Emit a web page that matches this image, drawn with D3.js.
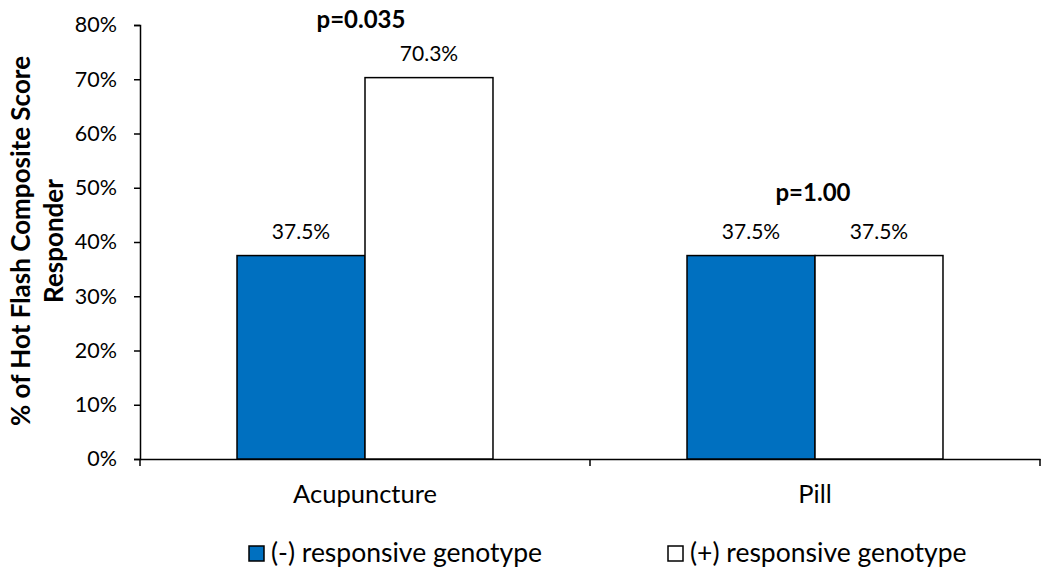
<!DOCTYPE html>
<html><head><meta charset="utf-8">
<script src="https://cdn.jsdelivr.net/npm/d3@7"></script>
<style>body{margin:0;background:#fff}svg{display:block}text{font-family:Lato,"Open Sans",sans-serif;fill:#000}</style>
</head><body><svg id="c" width="1050" height="577"></svg>
<script>
const categories = ["Acupuncture", "Pill"];
const seriesNames = ["(-) responsive genotype", "(+) responsive genotype"];
const negValues = [37.5, 37.5];
const posValues = [70.3, 37.5];
const pValues = ["p=0.035", "p=1.00"];
const yTicks = [0, 10, 20, 30, 40, 50, 60, 70, 80];
const colors = ["#0070C0", "#FFFFFF"];

const svg = d3.select("#c");
const x = d3.scaleBand().domain(categories).range([140, 1040]).paddingInner(0).paddingOuter(0);
const y = d3.scaleLinear().domain([0, 80]).range([459, 25]);
const inner = d3.scaleBand().domain([0, 1]).range([0, x.bandwidth()]).paddingOuter(0.758).paddingInner(0);

// axes
const ya = svg.append("g").attr("transform", "translate(140,0)")
  .call(d3.axisLeft(y).tickValues(yTicks).tickFormat(d => d + "%").tickSizeOuter(0).tickSize(6));
ya.select(".domain").attr("stroke", "#000").attr("stroke-width", 1.5);
ya.selectAll(".tick line").attr("stroke-width", 1.5);
ya.selectAll(".tick text").attr("font-size", 21.5).attr("x", -23).style("font-family", "Lato");

const xa = svg.append("g").attr("transform", "translate(0,459)")
  .call(d3.axisBottom(x).tickSize(0).tickSizeOuter(0));
xa.select(".domain").attr("stroke-width", 1.5);
xa.selectAll(".tick text").attr("font-size", 25.5).attr("dy", 0).attr("y", 44).style("font-family", "Lato");
// category boundary ticks
svg.append("g").selectAll("line").data([140, 590, 1040]).join("line")
  .attr("x1", d => d).attr("x2", d => d).attr("y1", 459).attr("y2", 466)
  .attr("stroke", "#000").attr("stroke-width", 1.5);

// bars
const series = [negValues, posValues];
series.forEach((vals, si) => {
  svg.append("g").selectAll("rect").data(categories).join("rect")
    .attr("x", (c) => x(c) + inner(si))
    .attr("y", (c, i) => y(vals[i]))
    .attr("width", inner.bandwidth())
    .attr("height", (c, i) => y(0) - y(vals[i]))
    .attr("fill", colors[si]).attr("stroke", "#000").attr("stroke-width", 1.5);
  svg.append("g").selectAll("text").data(categories).join("text")
    .attr("x", c => x(c) + inner(si) + inner.bandwidth() / 2)
    .attr("y", (c, i) => y(vals[i]) - 17)
    .attr("text-anchor", "middle").attr("font-size", 21)
    .text((c, i) => vals[i].toFixed(1) + "%");
});

// p-values
const pOffsets = [50, 55];
const pDx = [-4, -2];
svg.append("g").selectAll("text").data(categories).join("text")
  .attr("x", (c, i) => x(c) + x.bandwidth() / 2 + pDx[i])
  .attr("y", (c, i) => y(Math.max(negValues[i], posValues[i])) - pOffsets[i])
  .attr("text-anchor", "middle").attr("font-size", 24).attr("font-weight", "bold")
  .text((c, i) => pValues[i]);

// y title
const yt = svg.append("text").attr("transform", "translate(0,241) rotate(-90)")
  .attr("text-anchor", "middle").attr("font-size", 26).attr("font-weight", "bold");
yt.append("tspan").attr("x", 0).attr("y", 30).text("% of Hot Flash Composite Score");
yt.append("tspan").attr("x", 0).attr("y", 63).text("Responder");

// legend
const lx = [249, 668];
const lg = svg.append("g").selectAll("g").data(seriesNames).join("g")
  .attr("transform", (d, i) => `translate(${lx[i]},546)`);
lg.append("rect").attr("width", 15).attr("height", 15).attr("fill", (d, i) => colors[i])
  .attr("stroke", "#000").attr("stroke-width", 1.5);
lg.append("text").attr("x", 22).attr("y", 16).attr("font-size", 26.5).text(d => d);
</script></body></html>
